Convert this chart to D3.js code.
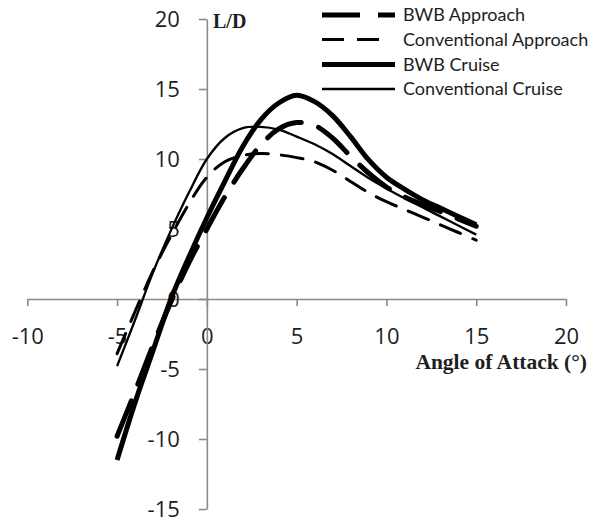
<!DOCTYPE html>
<html>
<head>
<meta charset="utf-8">
<script src="https://cdn.jsdelivr.net/npm/d3@7"></script>
<style>
  html, body { margin: 0; padding: 0; background: #fff; }
  svg { display: block; }
</style>
</head>
<body>
<svg id="chart" width="590" height="522"></svg>
<script>
// ---- data ----
const angles = [-5,-4,-3,-2,-1,0,1,2,3,4,5,6,7,8,9,10,11,12,13,14,15];
const bwbApproach = [-9.8,-6.6,-3.3,-0.2,2.6,5.0,7.3,9.3,11.0,12.15,12.6,12.4,11.5,10.2,9.0,8.0,7.3,6.75,6.25,5.72,5.2];
const convApproach = [-3.9,-0.9,2.0,4.5,6.8,8.7,9.8,10.25,10.4,10.3,10.1,9.8,9.2,8.4,7.6,6.95,6.4,5.85,5.3,4.75,4.2];
const bwbCruise = [-11.5,-7.4,-3.7,0.0,3.0,5.8,8.4,10.9,12.8,14.0,14.55,14.1,13.1,11.6,9.95,8.7,7.85,7.1,6.5,5.9,5.3];
const convCruise = [-4.8,-1.5,1.9,4.9,7.6,10.0,11.5,12.2,12.3,12.1,11.6,11.05,10.35,9.5,8.65,7.9,7.2,6.55,5.9,5.25,4.6];
const xTicks = [-10,-5,0,5,10,15,20];
const yTicks = [-15,-10,-5,0,5,10,15,20];
const seriesNames = ["BWB Approach","Conventional Approach","BWB Cruise","Conventional Cruise"];
const xTitle = "Angle of Attack (°)";
const yTitle = "L/D";

// ---- styles ----
const styles = {
  "BWB Approach": {width: 5, dash: "38,18", legendEnd: 395},
  "Conventional Approach": {width: 3, dash: "22,13", legendEnd: 384},
  "BWB Cruise": {width: 5, dash: null, legendEnd: 395},
  "Conventional Cruise": {width: 2.3, dash: null, legendEnd: 395}
};
const seriesValues = {
  "BWB Approach": bwbApproach,
  "Conventional Approach": convApproach,
  "BWB Cruise": bwbCruise,
  "Conventional Cruise": convCruise
};

const svg = d3.select("#chart");
const x = d3.scaleLinear().domain([-10, 20]).range([27.3, 566]);
const y = d3.scaleLinear().domain([-15, 20]).range([509, 19]);
const axisColor = "#8a8a8a";
const textColor = "#1e1e1e";

// X axis at y=0
const gx = svg.append("g")
  .attr("transform", `translate(0,${y(0)})`)
  .call(d3.axisBottom(x).tickValues(xTicks).tickSize(7).tickSizeOuter(0).tickPadding(22));
// Y axis at x=0
const gy = svg.append("g")
  .attr("transform", `translate(${x(0)},0)`)
  .call(d3.axisLeft(y).tickValues(yTicks).tickSize(8).tickSizeOuter(0).tickPadding(19));

[gx, gy].forEach(g => {
  g.select(".domain").attr("stroke", axisColor).attr("stroke-width", 1.6);
  g.selectAll(".tick line").attr("stroke", axisColor).attr("stroke-width", 1.6);
  g.selectAll(".tick text")
    .attr("fill", textColor)
    .style("font-family", "'Open Sans', sans-serif")
    .style("font-size", "22px")
    .text(d => d < 0 ? "-" + Math.abs(d) : String(d));
});

// Titles
svg.append("text")
  .attr("x", 213).attr("y", 28)
  .attr("fill", textColor)
  .style("font-family", "'Liberation Serif', 'Times New Roman', serif")
  .style("font-weight", "bold")
  .style("font-size", "20px")
  .text(yTitle);

svg.append("text")
  .attr("x", 587).attr("y", 369)
  .attr("text-anchor", "end")
  .attr("fill", textColor)
  .style("font-family", "'Liberation Serif', 'Times New Roman', serif")
  .style("font-weight", "bold")
  .style("font-size", "21.5px")
  .text(xTitle);

// Lines
const line = d3.line()
  .x(d => x(d[0]))
  .y(d => y(d[1]))
  .curve(d3.curveCatmullRom.alpha(0.5));

const drawOrder = ["Conventional Approach","Conventional Cruise","BWB Approach","BWB Cruise"];
drawOrder.forEach(name => {
  const vals = seriesValues[name];
  const pts = angles.map((a, i) => [a, vals[i]]);
  const st = styles[name];
  svg.append("path")
    .datum(pts)
    .attr("d", line)
    .attr("fill", "none")
    .attr("stroke", "#000")
    .attr("stroke-width", st.width)
    .attr("stroke-linecap", st.dash ? "round" : "butt")
    .attr("stroke-linejoin", "round")
    .attr("stroke-dasharray", st.dash);
});

// Legend
const legendY = [15, 39.5, 64.5, 89];
const lg = svg.append("g");
seriesNames.forEach((name, i) => {
  const st = styles[name];
  lg.append("line")
    .attr("x1", 322).attr("x2", st.legendEnd)
    .attr("y1", legendY[i]).attr("y2", legendY[i])
    .attr("stroke", "#000")
    .attr("stroke-width", st.width)
    .attr("stroke-dasharray", st.dash);
  lg.append("text")
    .attr("x", 403).attr("y", legendY[i])
    .attr("dy", "0.35em")
    .attr("fill", textColor)
    .style("font-family", "Lato, sans-serif")
    .style("font-size", "18px")
    .text(name);
});
</script>
</body>
</html>
